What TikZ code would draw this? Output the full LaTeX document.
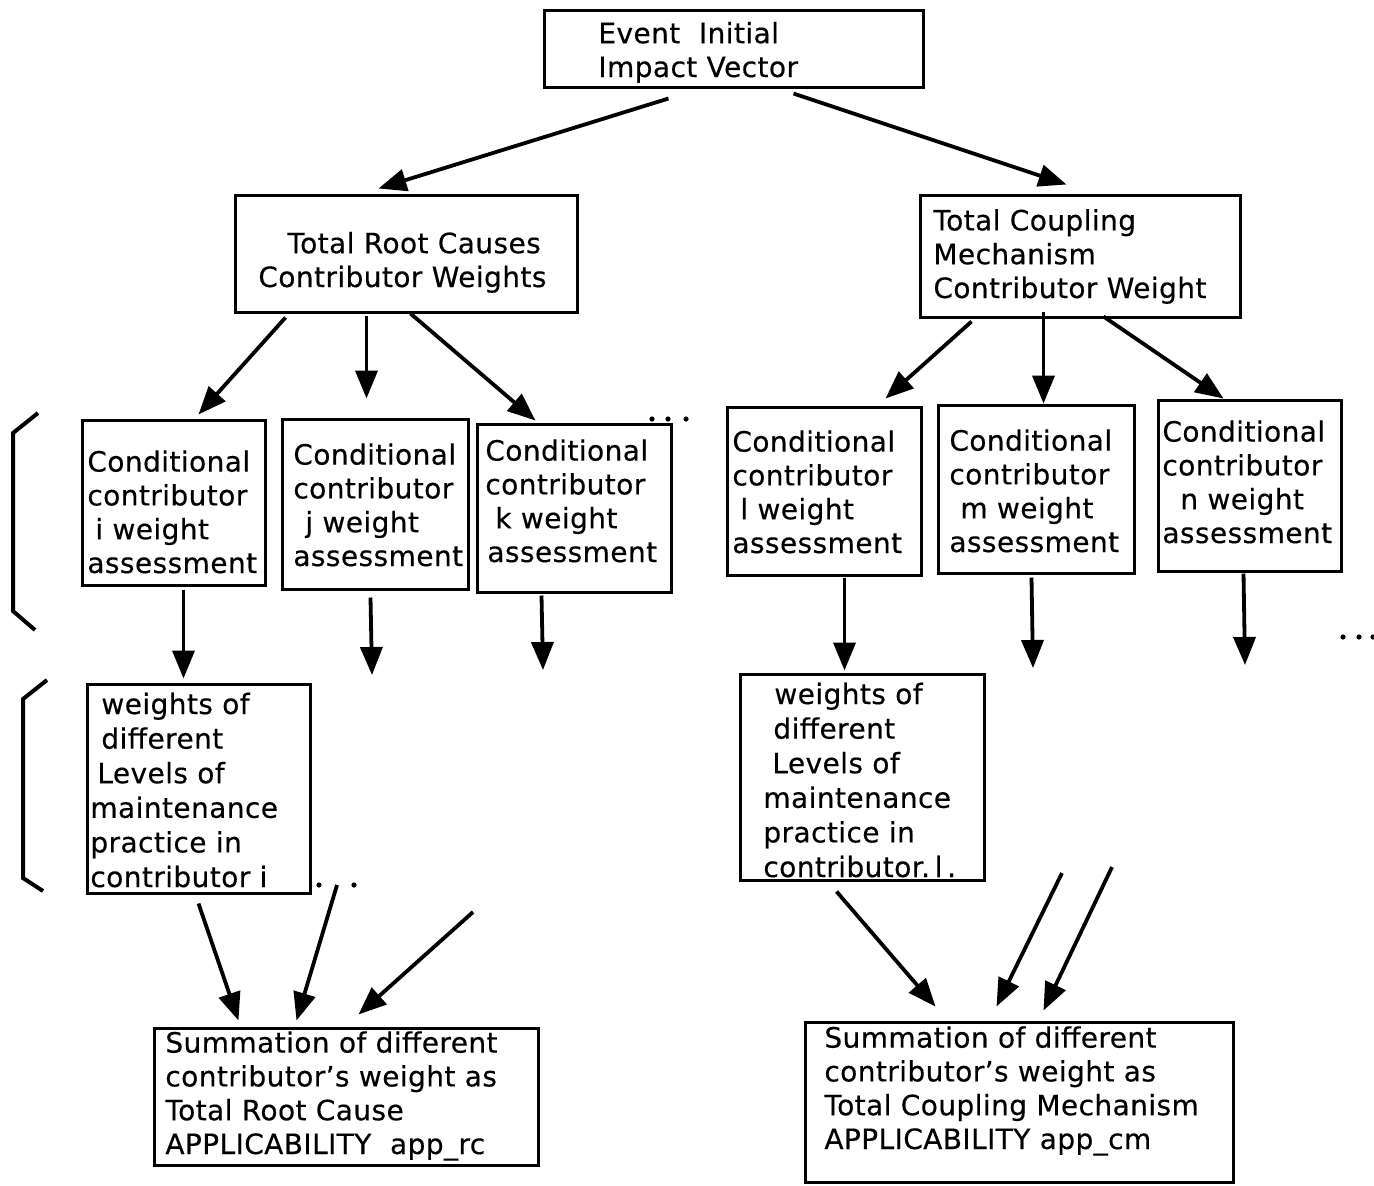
\documentclass[tikz,border=0pt]{standalone}
\usepackage{fontspec}
\setmainfont{DejaVu Sans}[FakeBold=0.4,LetterSpace=1.5]
\usetikzlibrary{arrows.meta,fit,calc}
\begin{document}
\begin{tikzpicture}[x=0.5pt,y=-0.5pt,
  box/.style={draw, line width=1.5pt, inner sep=0pt, rectangle},
  % text blocks are placed by the baseline of their last line
  txt/.style={inner sep=0pt, align=left, anchor=base west, font=\fontsize{14}{16.9}\selectfont},
  wtxt/.style={txt, font=\fontsize{14}{17.3}\selectfont},
  arr/.style={line width=1.9pt, -{Triangle[length=14pt,width=11pt]}},
  brk/.style={line width=2pt, line join=miter},
  dot/.style={circle, fill, inner sep=0pt, minimum size=2.6pt}]

\useasboundingbox (0,0) rectangle (1374,1185);

% ---- boxes ----
\node[box, fit={(544,10) (923,87)}] (ev) {};
\node[box, fit={(235,195) (577,312)}] (trc) {};
\node[box, fit={(920,195) (1240,317)}] (tcm) {};
\node[box, fit={(82,420) (265,585)}] (ci) {};
\node[box, fit={(282,419) (468,589)}] (cj) {};
\node[box, fit={(477,424) (671,592)}] (ck) {};
\node[box, fit={(727,407) (921,575)}] (cl) {};
\node[box, fit={(938,405) (1134,573)}] (cm) {};
\node[box, fit={(1158,400) (1341,571)}] (cn) {};
\node[box, fit={(87,684) (310,893)}] (wi) {};
\node[box, fit={(740,674) (984,880)}] (wl) {};
\node[box, fit={(154,1028) (538,1165)}] (sr) {};
\node[box, fit={(805,1022) (1233,1182)}] (sc) {};

% ---- box texts ----
\node[txt] (evt) at (598,77) {Event\ \ Initial\\Impact Vector};
\node[txt] (trct) at (258,287) {\hspace*{14.5pt}Total Root Causes\\Contributor Weights};
\node[txt] (tcmt) at (933,298) {Total Coupling\\Mechanism\\Contributor Weight};
\node[txt] (cit) at (87,573) {Conditional\\contributor\\\hspace*{4pt}i weight\\assessment};
\node[txt] (cjt) at (293,566) {Conditional\\contributor\\\hspace*{6pt}j weight\\assessment};
\node[txt] (ckt) at (485,562) {Conditional\\contributor\\\hspace*{5pt}k weight\\\hspace*{1pt}assessment};
\node[txt] (clt) at (732,553) {Conditional\\contributor\\\hspace*{4pt}l weight\\assessment};
\node[txt] (cmt) at (949,552) {Conditional\\contributor\\\hspace*{5.5pt}m weight\\assessment};
\node[txt] (cnt) at (1162,543) {Conditional\\contributor\\\hspace*{9pt}n weight\\assessment};
\node[wtxt] (wit) at (90,887) {\hspace*{5.5pt}weights of\\\hspace*{5.5pt}different\\\hspace*{3.5pt}Levels of\\maintenance\\practice in\\contributor i};
\node[wtxt] (wlt) at (763,877) {\hspace*{5.5pt}weights of\\\hspace*{5pt}different\\\hspace*{4.5pt}Levels of\\maintenance\\practice in\\contributor.\,l\,.};
\node[txt] (srt) at (165,1154) {Summation of different\\contributor's weight as\\Total Root Cause\\APPLICABILITY\ \ app\_rc};
\node[txt] (sct) at (824,1149) {Summation of different\\contributor's weight as\\Total Coupling Mechanism\\APPLICABILITY app\_cm};

% ---- free ends of the open arrows ----
\coordinate (cjend) at (372,675);
\coordinate (ckend) at (543,670);
\coordinate (cmend) at (1033,668);
\coordinate (cnend) at (1245,665);
\coordinate (sra) at (337,885);
\coordinate (srb) at (473,912);
\coordinate (sca) at (1062,873);
\coordinate (scb) at (1112,867);

% ---- connectors ----
\draw[arr] ($(ev.south west)+(126,10)$) -- ($(trc.north west)+(145,-5)$);
\draw[arr] ($(ev.south west)+(251,5)$) -- ($(tcm.north west)+(148,-9)$);
\draw[arr] ($(trc.south west)+(52,4)$) -- ($(ci.north west)+(118,-4)$);
\draw[arr] ($(trc.south west)+(133,2)$) -- ($(cj.north west)+(86,-19)$);
\draw[arr] ($(trc.south west)+(177,0)$) -- ($(ck.north west)+(60,-2)$);
\draw[arr] ($(tcm.south west)+(53,3)$) -- ($(cl.north west)+(160,-7)$);
\draw[arr] ($(tcm.south west)+(125,-7)$) -- ($(cm.north west)+(107,0)$);
\draw[arr] ($(tcm.south west)+(185,-2)$) -- ($(cn.north west)+(67,0)$);
\draw[arr] ($(ci.south west)+(103,3)$) -- ($(wi.north west)+(98,-4)$);
\draw[arr] ($(cj.south west)+(90,7)$) -- (cjend);
\draw[arr] ($(ck.south west)+(66,2)$) -- (ckend);
\draw[arr] ($(cl.south west)+(119,1)$) -- ($(wl.north west)+(106,-2)$);
\draw[arr] ($(cm.south west)+(95,3)$) -- (cmend);
\draw[arr] ($(cn.south west)+(87,1)$) -- (cnend);
\draw[arr] ($(wi.south west)+(113,9)$) -- ($(sr.north west)+(86,-6)$);
\draw[arr] (sra) -- ($(sr.north west)+(144,-6)$);
\draw[arr] (srb) -- ($(sr.north west)+(206,-12)$);
\draw[arr] ($(wl.south west)+(98,10)$) -- ($(sc.north west)+(132,-14)$);
\draw[arr] (sca) -- ($(sc.north west)+(193,-14)$);
\draw[arr] (scb) -- ($(sc.north west)+(240,-10)$);

% ---- brackets ----
\draw[brk] (38,413) -- (13,433) -- (13,611) -- (35,630);
\draw[brk] (47,680) -- (23,699) -- (23,878) -- (43,891);

% ---- continuation dots ----
\node[dot] (d1) at (652,419) {};
\node[dot] (d2) at (668,419) {};
\node[dot] (d3) at (686,419) {};
\node[dot] (d4) at (1343,637) {};
\node[dot] (d5) at (1359,637) {};
\node[dot] (d6) at (1373,637) {};
\node[dot] (d7) at (319,885) {};
\node[dot] (d8) at (354,885) {};
\end{tikzpicture}
\end{document}
